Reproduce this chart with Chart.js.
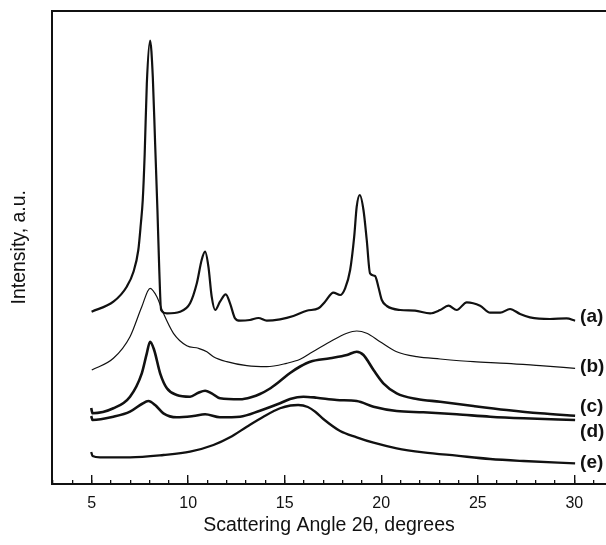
<!DOCTYPE html>
<html lang="en">
<head>
    <meta charset="UTF-8">
    <title>XRD patterns</title>
    <script src="https://cdn.jsdelivr.net/npm/chart.js"></script>
    <style>
        html, body { margin: 0; padding: 0; background: #ffffff; }
        #wrap { position: relative; width: 606px; height: 545px; }
    </style>
</head>
<body>
    <div id="wrap"><canvas id="xrdChart"></canvas></div>

    <script>
        // scattering angle (2θ) and intensity offsets
        const aX = [5.0, 6.13, 6.82, 7.17, 7.42, 7.55, 7.65, 7.75, 7.86, 8.03, 8.17, 8.29, 8.41, 8.5, 8.6, 8.9, 9.58, 10.1, 10.45, 10.7, 10.88, 11.05, 11.22, 11.4, 11.65, 11.95, 12.17, 12.43, 12.69, 13.2, 13.64, 14.07, 14.76, 15.45, 16.14, 16.75, 17.09, 17.52, 17.87, 18.13, 18.39, 18.6, 18.73, 18.89, 19.08, 19.25, 19.42, 19.68, 19.85, 20.03, 20.29, 20.98, 21.75, 22.53, 23.05, 23.48, 23.91, 24.43, 25.12, 25.64, 26.16, 26.67, 27.19, 27.7, 28.74, 29.6, 30.04];
        const aY = [172.3, 182.3, 197.3, 212.3, 234, 260, 284, 330, 400, 443.3, 407.3, 340.7, 274, 217.3, 174, 170.7, 172.3, 180.7, 200.7, 224, 232.3, 217.3, 187.3, 174, 182.3, 189.7, 180.7, 165.7, 163.3, 164, 166, 163.3, 164.7, 168, 173.3, 175.7, 182.3, 191.3, 189, 195.7, 214, 247.3, 277.3, 289, 274, 244, 210.7, 208, 197.3, 184, 178, 174, 173.3, 170.7, 174, 178.3, 174, 181.7, 178.3, 171.3, 171.3, 175, 170, 166.7, 165, 165.7, 163.3];

        const bX = [5.01, 6.13, 6.99, 7.6, 8.03, 8.38, 8.72, 9.24, 9.93, 10.53, 10.97, 11.31, 12.0, 13.04, 14.07, 15.1, 15.8, 16.32, 17.35, 18.22, 18.73, 19.25, 19.94, 20.8, 21.84, 23.05, 24.77, 26.5, 28.23, 30.04];
        const bY = [114, 125.7, 147.3, 177.3, 195.7, 187.3, 170.7, 150.7, 138.3, 135.7, 132.3, 127.3, 122.3, 118.3, 117.3, 120.7, 124.7, 130.7, 142.3, 150.7, 153, 150.7, 142.3, 132.3, 127.3, 125, 122.3, 120.7, 118.3, 115.7];

        const cX = [4.98, 5.05, 6.13, 6.99, 7.6, 7.86, 8.03, 8.24, 8.55, 8.9, 9.41, 10.1, 10.53, 10.88, 11.22, 11.65, 12.69, 13.3, 13.72, 14.2, 14.76, 15.28, 15.8, 16.32, 17.35, 18.22, 18.73, 19.08, 19.6, 20.11, 20.8, 21.84, 23.05, 24.77, 26.5, 28.23, 30.04];
        const cY = [76, 70.7, 75.7, 87.3, 110.7, 130.7, 142.3, 134, 110.7, 95.7, 89, 87.3, 91.3, 93.3, 90.7, 85.7, 84.7, 87, 90, 95, 103, 111, 117.5, 122.3, 125.7, 129, 132.3, 129, 114, 100.7, 90.7, 85, 82.3, 78, 74, 70.7, 68.3];

        const dX = [4.98, 5.05, 6.13, 6.99, 7.6, 7.94, 8.29, 8.72, 9.41, 10.27, 10.88, 11.65, 12.69, 13.72, 14.76, 15.28, 15.97, 16.66, 17.7, 18.73, 19.6, 20.8, 22.18, 23.91, 25.64, 27.37, 30.04];
        const dY = [68, 64, 67.3, 72.3, 80, 83, 79, 70.7, 66.7, 68, 69.7, 66.7, 67.3, 73.3, 80.7, 85, 87.3, 86.3, 84, 83, 77.3, 73, 71.7, 69.7, 67.3, 65.7, 64];

        const eX = [4.98, 5.05, 5.44, 6.99, 8.72, 10.1, 11.31, 12.17, 13.04, 13.9, 14.76, 15.3, 15.7, 16.2, 16.6, 17.0, 17.87, 18.73, 19.6, 20.8, 22.18, 23.91, 25.64, 27.37, 30.04];
        const eY = [32, 28, 26.7, 26.7, 29, 32.3, 39, 46.7, 57.3, 67.3, 75.7, 78.5, 79, 77, 72, 65, 53, 46.7, 41.3, 35.7, 31.7, 28.3, 25, 23, 20.7];

        const seriesNames = ['(a)', '(b)', '(c)', '(d)', '(e)'];
        const xTicks = [5, 10, 15, 20, 25, 30];

        const xMin = 2.95, xMax = 31.64;
        const yMin = 0, yMax = 473.5;
        const fontFamily = "'Liberation Sans', Arial, sans-serif";

        function toPoints(xs, ys) {
            return xs.map((x, i) => ({ x: x, y: ys[i] }));
        }

        const widths = [2.2, 1.2, 2.6, 2.6, 2.3];
        const allX = [aX, bX, cX, dX, eX];
        const allY = [aY, bY, cY, dY, eY];

        const datasets = seriesNames.map((name, i) => ({
            label: name,
            data: toPoints(allX[i], allY[i]),
            borderColor: '#111111',
            borderWidth: widths[i],
            pointRadius: 0,
            fill: false,
            cubicInterpolationMode: 'monotone',
            xAxisID: 'x',
            yAxisID: 'y'
        }));

        // curve labels at the right end of every pattern
        const labelOffsets = [4, 2, 9, -12, 1];
        const curveLabels = {
            id: 'curveLabels',
            afterDatasetsDraw(chart) {
                const ctx = chart.ctx;
                const xs = chart.scales.x, ys = chart.scales.y;
                ctx.save();
                ctx.font = "bold 19px " + fontFamily;
                ctx.fillStyle = '#111111';
                ctx.textAlign = 'left';
                ctx.textBaseline = 'middle';
                chart.data.datasets.forEach((ds, i) => {
                    const last = ds.data[ds.data.length - 1];
                    ctx.fillText(ds.label, xs.getPixelForValue(30.3), ys.getPixelForValue(last.y + labelOffsets[i]));
                });
                ctx.restore();
            }
        };

        new Chart(document.getElementById('xrdChart'), {
            type: 'line',
            data: { datasets: datasets },
            plugins: [curveLabels],
            options: {
                responsive: true,
                maintainAspectRatio: false,
                animation: false,
                layout: { padding: 0 },
                plugins: {
                    legend: { display: false },
                    tooltip: { enabled: false }
                },
                scales: {
                    x: {
                        type: 'linear',
                        position: 'bottom',
                        weight: 1,
                        min: xMin,
                        max: xMax,
                        afterBuildTicks: (s) => { s.ticks = xTicks.map(v => ({ value: v })); },
                        afterFit: (s) => { s.height = 61; },
                        ticks: {
                            includeBounds: false,
                            padding: 19,
                            color: '#111111',
                            font: { family: fontFamily, size: 16 },
                            maxRotation: 0
                        },
                        grid: { display: true, drawOnChartArea: false, drawTicks: true, tickLength: -9, color: '#111111', lineWidth: 1.4 },
                        border: { display: true, color: '#111111', width: 2 },
                        title: {
                            display: true,
                            text: 'Scattering Angle 2θ, degrees',
                            color: '#111111',
                            font: { family: fontFamily, size: 19.5 },
                            padding: { top: 0, bottom: 8 }
                        }
                    },
                    xMinor: {
                        type: 'linear',
                        display: true,
                        position: 'bottom',
                        weight: 0,
                        min: xMin,
                        max: xMax,
                        afterFit: (s) => { s.height = 0; },
                        ticks: { display: false, stepSize: 1, includeBounds: false },
                        grid: { display: true, drawOnChartArea: false, drawTicks: true, tickLength: -4, color: '#111111', lineWidth: 1.3 },
                        border: { display: false }
                    },
                    xTop: {
                        type: 'linear',
                        display: true,
                        position: 'top',
                        min: xMin,
                        max: xMax,
                        afterFit: (s) => { s.height = 10.5; },
                        ticks: { display: false },
                        grid: { display: false },
                        border: { display: true, color: '#111111', width: 2 }
                    },
                    y: {
                        type: 'linear',
                        position: 'left',
                        min: yMin,
                        max: yMax,
                        afterFit: (s) => { s.width = 52; },
                        ticks: { display: false },
                        grid: { display: false },
                        border: { display: true, color: '#111111', width: 2 },
                        title: {
                            display: true,
                            text: 'Intensity, a.u.',
                            color: '#111111',
                            font: { family: fontFamily, size: 19.5 },
                            padding: { top: 7.5, bottom: 0 }
                        }
                    }
                }
            }
        });
    </script>
</body>
</html>
